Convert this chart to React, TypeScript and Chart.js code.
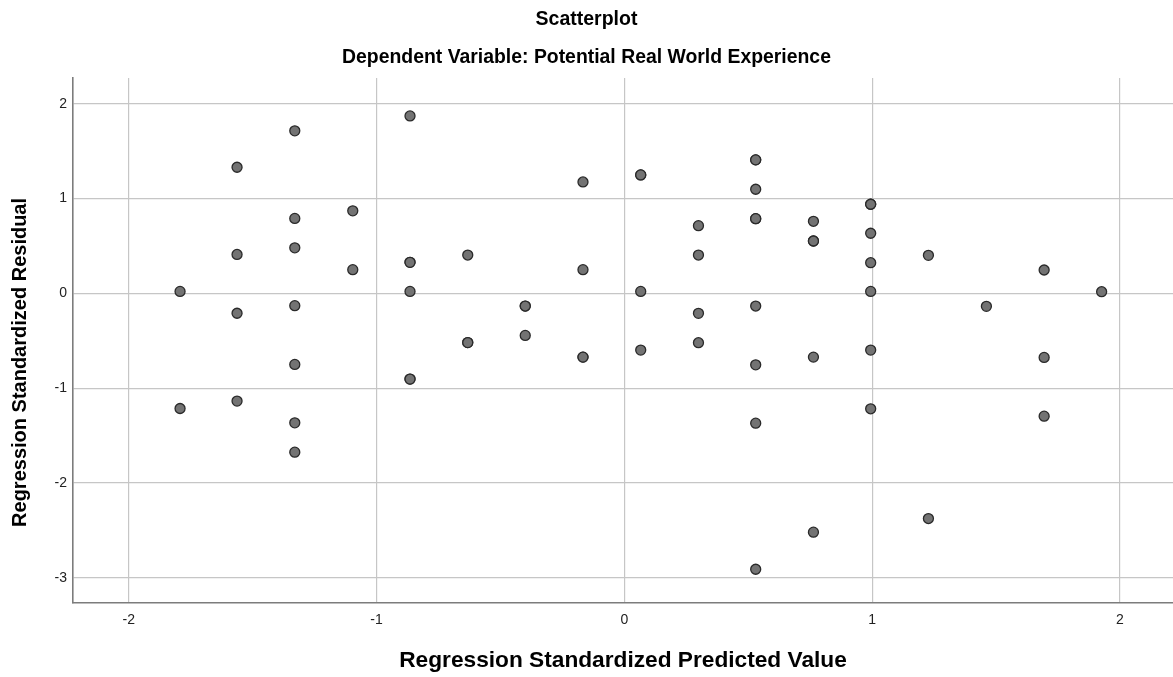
import React, { useEffect, useRef } from "react";
import { Chart, registerables } from "chart.js";

Chart.register(...registerables);

// Regression Standardized Predicted Value (x) and Regression Standardized Residual (y)
const predicted: number[] = [
  -1.793, -1.793,
  -1.563, -1.563, -1.563, -1.563,
  -1.33, -1.33, -1.33, -1.33, -1.33, -1.33, -1.33,
  -1.096, -1.096,
  -0.865, -0.865, -0.865, -0.865, -0.865, -0.865,
  -0.632, -0.632, -0.632,
  -0.4, -0.4, -0.4,
  -0.167, -0.167, -0.167, -0.167,
  0.066, 0.066, 0.066, 0.066,
  0.299, 0.299, 0.299, 0.299,
  0.53, 0.53, 0.53, 0.53, 0.53, 0.53, 0.53, 0.53, 0.53,
  0.763, 0.763, 0.763, 0.763, 0.763,
  0.994, 0.994, 0.994, 0.994, 0.994, 0.994, 0.994,
  1.227, 1.227,
  1.461,
  1.694, 1.694, 1.694,
  1.926,
];

const residual: number[] = [
  0.02, -1.215,
  1.33, 0.41, -0.21, -1.137,
  1.714, 0.79, 0.48, -0.13, -0.75, -1.366, -1.676,
  0.87, 0.25,
  1.872, 0.327, 0.327, 0.02, -0.905, -0.905,
  0.404, -0.52, -0.52,
  -0.134, -0.134, -0.444,
  1.175, 0.25, -0.673, -0.673,
  1.249, 1.249, 0.02, -0.599,
  0.714, 0.404, -0.211, -0.521,
  1.408, 1.408, 1.098, 0.788, 0.788, -0.134, -0.754, -1.37, -2.911,
  0.76, 0.552, 0.552, -0.673, -2.52,
  0.94, 0.94, 0.634, 0.323, 0.02, -0.599, -1.218,
  0.401, -2.376,
  -0.137,
  0.246, -0.676, -1.296,
  0.017,
];

const chartTitle = "Scatterplot";
const chartSubtitle = "Dependent Variable: Potential Real World Experience";
const xTitle = "Regression Standardized Predicted Value";
const yTitle = "Regression Standardized Residual";

const xRange = [-2.225, 2.214];
const yRange = [-3.267, 2.273];

const FONT = "'Liberation Sans', Arial, Helvetica, sans-serif";

// Rotated y-axis title, centred a little below the middle of the plot area
const yTitlePlugin = {
  id: "yTitle",
  afterDraw(chart: any) {
    const { ctx, chartArea } = chart;
    const cy = (chartArea.top + chartArea.bottom) / 2 + 22;
    ctx.save();
    ctx.translate(20, cy);
    ctx.rotate(-Math.PI / 2);
    ctx.font = `bold 20px ${FONT}`;
    ctx.fillStyle = "#000";
    ctx.textAlign = "center";
    ctx.textBaseline = "middle";
    ctx.fillText(yTitle, 0, 0);
    ctx.restore();
  },
};

export default function App() {
  const canvasRef = useRef<HTMLCanvasElement | null>(null);

  useEffect(() => {
    if (!canvasRef.current) return;
    const points = predicted.map((x, i) => ({ x, y: residual[i] }));
    const chart = new Chart(canvasRef.current, {
      type: "scatter",
      data: {
        datasets: [
          {
            data: points,
            pointRadius: 5,
            pointHoverRadius: 5,
            pointBackgroundColor: "#737373",
            pointBorderColor: "#2a2a2a",
            pointBorderWidth: 1.3,
          },
        ],
      },
      options: {
        animation: false,
        responsive: true,
        maintainAspectRatio: false,
        layout: { autoPadding: false, padding: 0 },
        plugins: {
          legend: { display: false },
          tooltip: { enabled: false },
          title: {
            display: true,
            text: chartTitle,
            color: "#000",
            font: { family: FONT, size: 19.5, weight: "bold" },
            padding: { top: 8, bottom: 14.7 },
          },
          subtitle: {
            display: true,
            text: chartSubtitle,
            color: "#000",
            font: { family: FONT, size: 19.4, weight: "bold" },
            padding: { top: 0, bottom: 8.5 },
          },
        },
        scales: {
          x: {
            type: "linear",
            min: xRange[0],
            max: xRange[1],
            afterFit(scale: any) {
              scale.height = 74;
            },
            ticks: {
              stepSize: 1,
              includeBounds: false,
              color: "#222",
              padding: 9,
              font: { family: FONT, size: 14 },
            },
            grid: { color: "#c6c6c6", lineWidth: 1.2, drawTicks: false },
            border: { display: true, color: "#7c7c7c", width: 1.6 },
            title: {
              display: true,
              text: xTitle,
              color: "#000",
              font: { family: FONT, size: 22.7, weight: "bold" },
              padding: { top: 0, bottom: 3 },
            },
          },
          y: {
            type: "linear",
            min: yRange[0],
            max: yRange[1],
            afterFit(scale: any) {
              scale.width = 73;
            },
            ticks: {
              stepSize: 1,
              includeBounds: false,
              color: "#222",
              padding: 6,
              font: { family: FONT, size: 14 },
            },
            grid: { color: "#c6c6c6", lineWidth: 1.2, drawTicks: false },
            border: { display: true, color: "#7c7c7c", width: 1.6 },
          },
        },
      },
      plugins: [yTitlePlugin],
    });
    return () => chart.destroy();
  }, []);

  return (
    <div
      style={{
        position: "absolute",
        left: 0,
        top: 0,
        width: 1173,
        height: 677,
        background: "#fff",
      }}
    >
      <canvas ref={canvasRef} />
    </div>
  );
}
